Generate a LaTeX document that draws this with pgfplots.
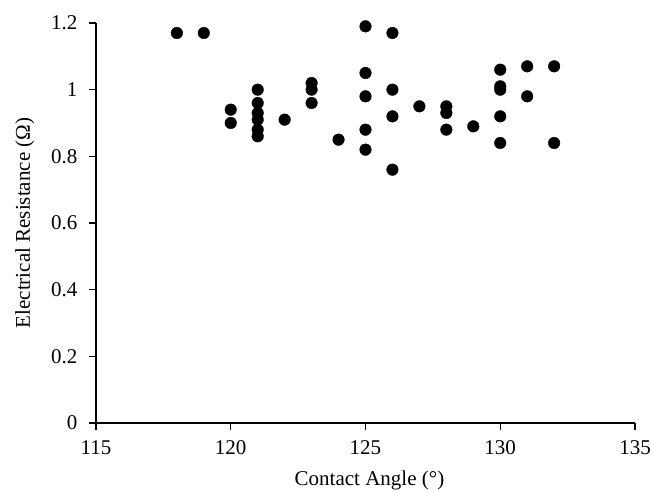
\documentclass[border=0pt]{standalone}
\usepackage{fontspec}
\setmainfont{Liberation Serif}
\usepackage{pgfplots}
\pgfplotsset{compat=1.18}
\usetikzlibrary{calc}

\begin{document}
\begin{tikzpicture}
\begin{axis}[
  scale only axis, width=539pt, height=400pt,
  xmin=115, xmax=135, ymin=0, ymax=1.2,
  xtick={115,120,...,135}, ytick={0,0.2,...,1.2},
  axis x line*=bottom, axis y line*=left,
  axis line style={line width=1.5pt},
  every tick/.style={line width=1.5pt,black},
  major tick length=7pt, tick align=outside,
  tick label style={font=\fontsize{21}{24}\selectfont},
  label style={font=\fontsize{21}{24}\selectfont},
  /pgf/number format/assume math mode=true,
  xlabel={Contact Angle (°)}, ylabel={Electrical Resistance (Ω)},
  xticklabel style={yshift=-7pt}, yticklabel style={xshift=-8pt},
  xlabel style={yshift=-9pt,xshift=4pt}, ylabel style={yshift=10pt},
  clip=false,
]
\addplot[only marks, mark=*, mark size=5.8pt, black] coordinates {
(118,1.17) (119,1.17)
(120,0.94) (120,0.90)
(121,1.00) (121,0.96) (121,0.93) (121,0.91) (121,0.88) (121,0.86)
(122,0.91)
(123,1.02) (123,1.00) (123,0.96)
(124,0.85)
(125,1.19) (125,1.05) (125,0.98) (125,0.88) (125,0.82)
(126,1.17) (126,1.00) (126,0.92) (126,0.76)
(127,0.95)
(128,0.95) (128,0.93) (128,0.88)
(129,0.89)
(130,1.06) (130,1.01) (130,1.00) (130,0.92) (130,0.84)
(131,1.07) (131,0.98)
(132,1.07) (132,0.84)
};
\coordinate (bl) at (rel axis cs:0,0);
\coordinate (tr) at (rel axis cs:1,1);
\end{axis}
\pgfresetboundingbox
\path ($(bl)+(-96pt,-69pt)$) rectangle ($(tr)+(19pt,23pt)$);
\end{tikzpicture}
\end{document}
